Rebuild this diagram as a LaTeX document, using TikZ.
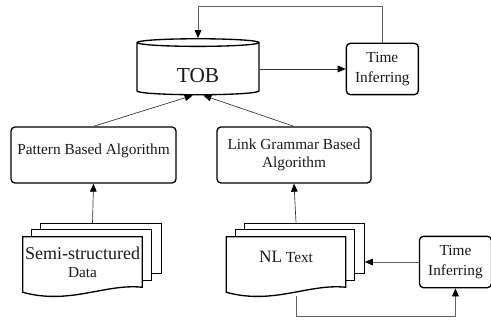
\documentclass[tikz,border=0pt]{standalone}
\usepackage{fontspec}
\setmainfont{Liberation Serif}
\usetikzlibrary{shapes.geometric,arrows.meta,positioning,calc}
\definecolor{bdrclr}{RGB}{0,0,0}
\definecolor{lnclr}{RGB}{95,95,95}
\definecolor{txtclr}{RGB}{25,25,25}
\tikzset{
  dbcyl/.style={cylinder,shape border rotate=90,aspect=0.18,draw=bdrclr,
    line width=1pt,minimum width=91.5pt,minimum height=42pt,inner sep=0pt,
    font=\fontsize{16}{18}\selectfont,text=txtclr},
  algblk/.style={rectangle,rounded corners=3pt,draw=bdrclr,line width=1pt,
    minimum height=42pt,align=center,inner sep=2pt,
    font=\fontsize{11.5}{14}\selectfont,text=txtclr},
  timblk/.style={algblk,minimum width=54pt,minimum height=38.5pt,
    font=\fontsize{11.5}{14.5}\selectfont},
  docfront/.style={rectangle,minimum width=89.25pt,minimum height=37.5pt,
    inner sep=0pt,align=center,font=\fontsize{11.5}{13.5}\selectfont,text=txtclr},
  pagebdr/.style={draw=bdrclr,line width=1pt,line join=miter},
  arr/.style={-{Triangle[length=6pt,width=5pt,black]},line width=0.5pt,draw=black!80},
  farr/.style={-{Triangle[length=6pt,width=5pt,black]},line width=0.5pt,draw=lnclr},
}
% stack of three pages behind a document node
\newcommand{\docstack}[1]{%
  \draw[pagebdr] ($(#1.north west)+(18,-7)$) |- ($(#1.north east)+(19,-13)$)
    |- ($(#1.south east)+(9,-14)$);
  \draw[pagebdr] ($(#1.north west)+(9,0)$) |- ($(#1.north east)+(9,-7)$)
    |- ($(#1.south east)+(0,-7)$);
  \draw[pagebdr] (#1.north west) -- (#1.north east) -- (#1.south east)
    .. controls +(-37,-4) and +(47,13) .. ($(#1.south west)+(0,5)$) -- cycle;
}

\begin{document}
\begin{tikzpicture}[x=0.75pt,y=-0.75pt]
  \useasboundingbox (0,0) rectangle (491,320);

  %% store and time inference
  \node[dbcyl,text height=21pt,text depth=0pt] (tob) at (198,69) {TOB};
  \node[timblk,right=64.5pt of tob] (timeA) {Time\\Inferring};

  %% algorithms
  \node[algblk,minimum width=123.75pt,text height=8pt,text depth=9pt] (pat)
    at (93.5,155) {Pattern Based Algorithm};
  \node[algblk,minimum width=115.5pt] (lnk) at (294,155)
    {Link Grammar Based\\Algorithm};

  %% inputs
  \node[docfront] (semi) at (82.5,262)
    {{\fontsize{13.5}{15}\selectfont Semi-structured}\\Data};
  \node[docfront,text height=9pt,text depth=8.5pt] (nlt) at (286,262)
    {{\fontsize{13}{15}\selectfont NL} Text};
  \node[timblk,right=54.75pt of nlt] (timeB) {Time\\Inferring};
  \docstack{semi}
  \docstack{nlt}

  %% arrows
  \draw[arr] ($(semi.north)+(10,-13)$) -- (pat.south);
  \draw[arr] ($(nlt.north)+(10,-14)$) -- (lnk.south);
  \draw[arr] (pat.north) -- ([xshift=-4pt]tob.south);
  \draw[arr] (lnk.north) -- ([xshift=4pt]tob.south);
  \draw[arr] (tob.east) -- (timeA.west);
  \draw[farr] (timeA.north) -- ++(0,-36) -| (tob.north);
  \draw[farr] (timeB.west) -- ($(nlt.east)+(19,0)$);
  \draw[farr] ($(nlt.south)+(10,9)$) -- ++(0,20) -| (timeB.south);
\end{tikzpicture}
\end{document}
